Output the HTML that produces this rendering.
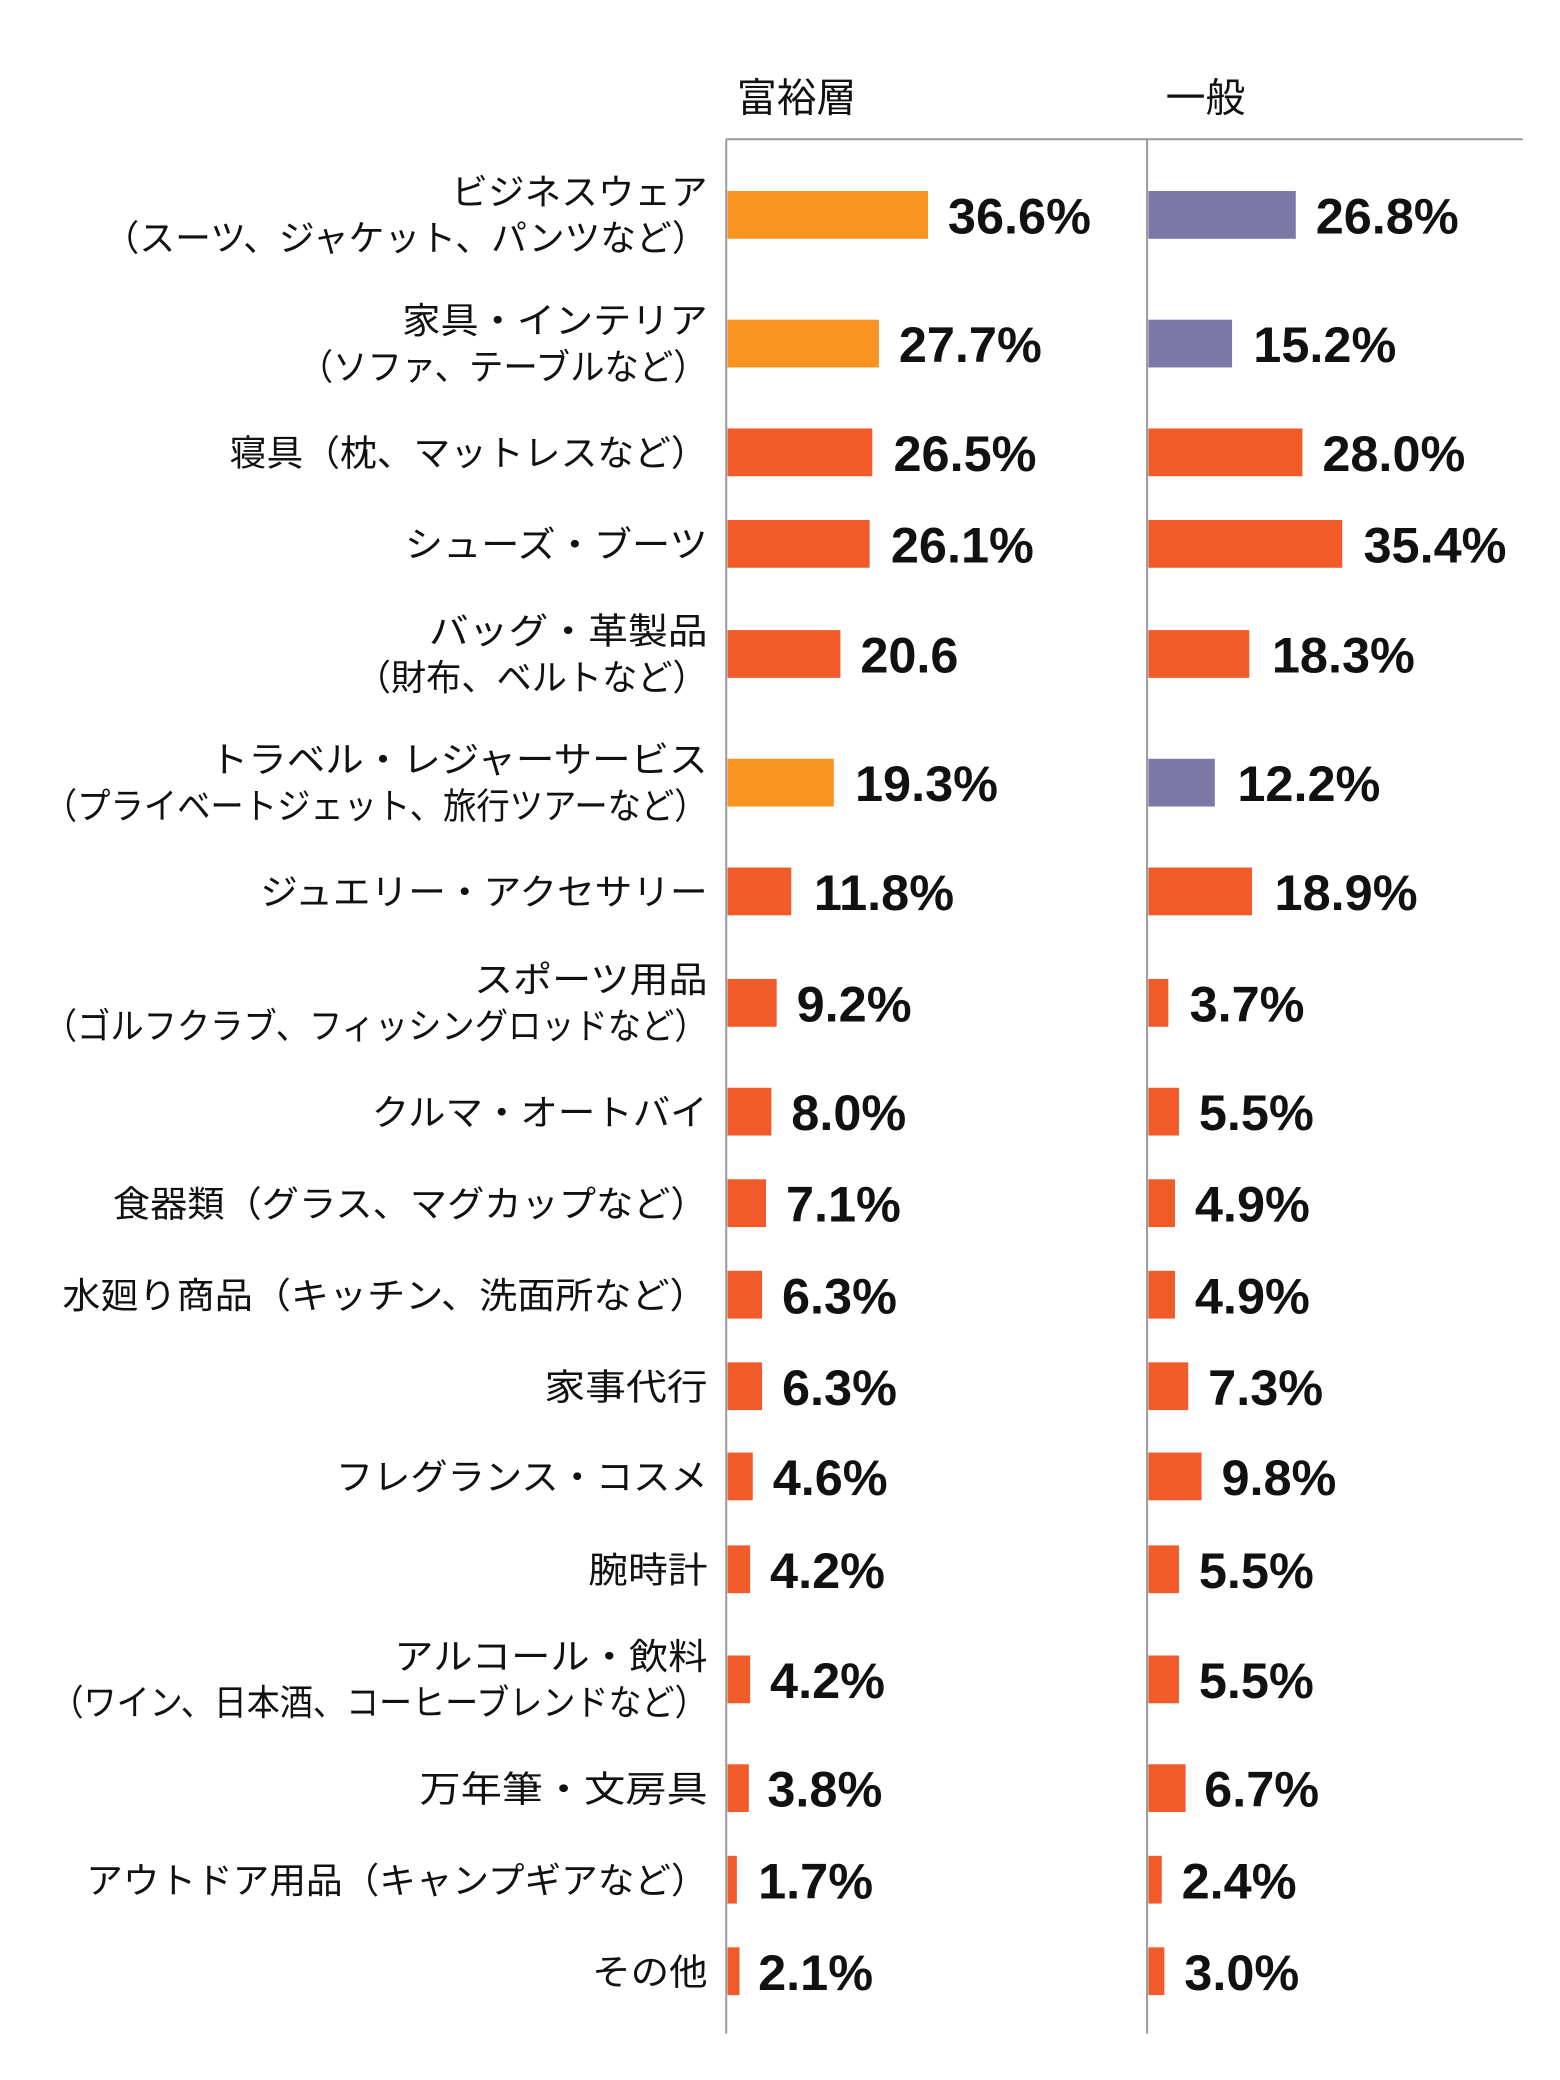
<!DOCTYPE html>
<html><head><meta charset="utf-8"><style>html,body{margin:0;padding:0;background:#fff}svg{display:block}</style></head>
<body>
<svg width="1560" height="2080" viewBox="0 0 1175 1568" preserveAspectRatio="none" xmlns="http://www.w3.org/2000/svg">
<g font-family="'Liberation Sans','Noto Sans CJK JP',sans-serif" fill="#111">
<text x="555" y="84" font-size="30">富裕層</text>
<text x="878" y="84" font-size="30">一般</text>
</g>
<line x1="547" y1="105" x2="1147" y2="105" stroke="#999" stroke-width="1.5"/>
<line x1="547" y1="105" x2="547" y2="1533" stroke="#999" stroke-width="1.5"/>
<line x1="864" y1="105" x2="864" y2="1533" stroke="#999" stroke-width="1.5"/>
<g font-family="'Liberation Sans','Noto Sans CJK JP',sans-serif" font-size="27" fill="#111" text-anchor="end">
<text x="533" y="154" textLength="193" lengthAdjust="spacingAndGlyphs">ビジネスウェア</text>
<text x="533" y="189" textLength="455" lengthAdjust="spacingAndGlyphs">（スーツ、ジャケット、パンツなど）</text>
<text x="533" y="251" textLength="230" lengthAdjust="spacingAndGlyphs">家具・インテリア</text>
<text x="533" y="286" textLength="308" lengthAdjust="spacingAndGlyphs">（ソファ、テーブルなど）</text>
<text x="533" y="351" textLength="360" lengthAdjust="spacingAndGlyphs">寝具（枕、マットレスなど）</text>
<text x="533" y="420" textLength="228" lengthAdjust="spacingAndGlyphs">シューズ・ブーツ</text>
<text x="533" y="485" textLength="210" lengthAdjust="spacingAndGlyphs">バッグ・革製品</text>
<text x="533" y="520" textLength="265" lengthAdjust="spacingAndGlyphs">（財布、ベルトなど）</text>
<text x="533" y="582" textLength="375" lengthAdjust="spacingAndGlyphs">トラベル・レジャーサービス</text>
<text x="533" y="617" textLength="500" lengthAdjust="spacingAndGlyphs">（プライベートジェット、旅行ツアーなど）</text>
<text x="533" y="682" textLength="337" lengthAdjust="spacingAndGlyphs">ジュエリー・アクセサリー</text>
<text x="533" y="748" textLength="176" lengthAdjust="spacingAndGlyphs">スポーツ用品</text>
<text x="533" y="783" textLength="500" lengthAdjust="spacingAndGlyphs">（ゴルフクラブ、フィッシングロッドなど）</text>
<text x="533" y="848" textLength="253" lengthAdjust="spacingAndGlyphs">クルマ・オートバイ</text>
<text x="533" y="917" textLength="448" lengthAdjust="spacingAndGlyphs">食器類（グラス、マグカップなど）</text>
<text x="533" y="986" textLength="486" lengthAdjust="spacingAndGlyphs">水廻り商品（キッチン、洗面所など）</text>
<text x="533" y="1055" textLength="123" lengthAdjust="spacingAndGlyphs">家事代行</text>
<text x="533" y="1123" textLength="280" lengthAdjust="spacingAndGlyphs">フレグランス・コスメ</text>
<text x="533" y="1193" textLength="90" lengthAdjust="spacingAndGlyphs">腕時計</text>
<text x="533" y="1258" textLength="236" lengthAdjust="spacingAndGlyphs">アルコール・飲料</text>
<text x="533" y="1293" textLength="495" lengthAdjust="spacingAndGlyphs">（ワイン、日本酒、コーヒーブレンドなど）</text>
<text x="533" y="1358" textLength="217" lengthAdjust="spacingAndGlyphs">万年筆・文房具</text>
<text x="533" y="1427" textLength="468" lengthAdjust="spacingAndGlyphs">アウトドア用品（キャンプギアなど）</text>
<text x="533" y="1496" textLength="87" lengthAdjust="spacingAndGlyphs">その他</text>
</g>
<g font-family="'Liberation Sans',sans-serif" font-size="38" font-weight="bold" fill="#111">
<rect x="548" y="144" width="151" height="36" fill="#F7931E"/><text x="714" y="176">36.6%</text>
<rect x="865" y="144" width="111" height="36" fill="#7B77A6"/><text x="991" y="176">26.8%</text>

<rect x="548" y="241" width="114" height="36" fill="#F7931E"/><text x="677" y="273">27.7%</text>
<rect x="865" y="241" width="63" height="36" fill="#7B77A6"/><text x="944" y="273">15.2%</text>

<rect x="548" y="323" width="109" height="36" fill="#F15A29"/><text x="673" y="355">26.5%</text>
<rect x="865" y="323" width="116" height="36" fill="#F15A29"/><text x="996" y="355">28.0%</text>

<rect x="548" y="392" width="107" height="36" fill="#F15A29"/><text x="671" y="424">26.1%</text>
<rect x="865" y="392" width="146" height="36" fill="#F15A29"/><text x="1027" y="424">35.4%</text>

<rect x="548" y="475" width="85" height="36" fill="#F15A29"/><text x="648" y="507">20.6</text>
<rect x="865" y="475" width="76" height="36" fill="#F15A29"/><text x="958" y="507">18.3%</text>

<rect x="548" y="572" width="80" height="36" fill="#F7931E"/><text x="644" y="604">19.3%</text>
<rect x="865" y="572" width="50" height="36" fill="#7B77A6"/><text x="932" y="604">12.2%</text>

<rect x="548" y="654" width="48" height="36" fill="#F15A29"/><text x="613" y="686">11.8%</text>
<rect x="865" y="654" width="78" height="36" fill="#F15A29"/><text x="960" y="686">18.9%</text>

<rect x="548" y="738" width="37" height="36" fill="#F15A29"/><text x="600" y="770">9.2%</text>
<rect x="865" y="738" width="15" height="36" fill="#F15A29"/><text x="896" y="770">3.7%</text>

<rect x="548" y="820" width="33" height="36" fill="#F15A29"/><text x="596" y="852">8.0%</text>
<rect x="865" y="820" width="23" height="36" fill="#F15A29"/><text x="903" y="852">5.5%</text>

<rect x="548" y="889" width="29" height="36" fill="#F15A29"/><text x="592" y="921">7.1%</text>
<rect x="865" y="889" width="20" height="36" fill="#F15A29"/><text x="900" y="921">4.9%</text>

<rect x="548" y="958" width="26" height="36" fill="#F15A29"/><text x="589" y="990">6.3%</text>
<rect x="865" y="958" width="20" height="36" fill="#F15A29"/><text x="900" y="990">4.9%</text>

<rect x="548" y="1027" width="26" height="36" fill="#F15A29"/><text x="589" y="1059">6.3%</text>
<rect x="865" y="1027" width="30" height="36" fill="#F15A29"/><text x="910" y="1059">7.3%</text>

<rect x="548" y="1095" width="19" height="36" fill="#F15A29"/><text x="582" y="1127">4.6%</text>
<rect x="865" y="1095" width="40" height="36" fill="#F15A29"/><text x="920" y="1127">9.8%</text>

<rect x="548" y="1165" width="17" height="36" fill="#F15A29"/><text x="580" y="1197">4.2%</text>
<rect x="865" y="1165" width="23" height="36" fill="#F15A29"/><text x="903" y="1197">5.5%</text>

<rect x="548" y="1248" width="17" height="36" fill="#F15A29"/><text x="580" y="1280">4.2%</text>
<rect x="865" y="1248" width="23" height="36" fill="#F15A29"/><text x="903" y="1280">5.5%</text>

<rect x="548" y="1330" width="16" height="36" fill="#F15A29"/><text x="578" y="1362">3.8%</text>
<rect x="865" y="1330" width="28" height="36" fill="#F15A29"/><text x="907" y="1362">6.7%</text>

<rect x="548" y="1399" width="7" height="36" fill="#F15A29"/><text x="571" y="1431">1.7%</text>
<rect x="865" y="1399" width="10" height="36" fill="#F15A29"/><text x="890" y="1431">2.4%</text>

<rect x="548" y="1468" width="9" height="36" fill="#F15A29"/><text x="571" y="1500">2.1%</text>
<rect x="865" y="1468" width="12" height="36" fill="#F15A29"/><text x="892" y="1500">3.0%</text>
</g>
</svg>
</body></html>
